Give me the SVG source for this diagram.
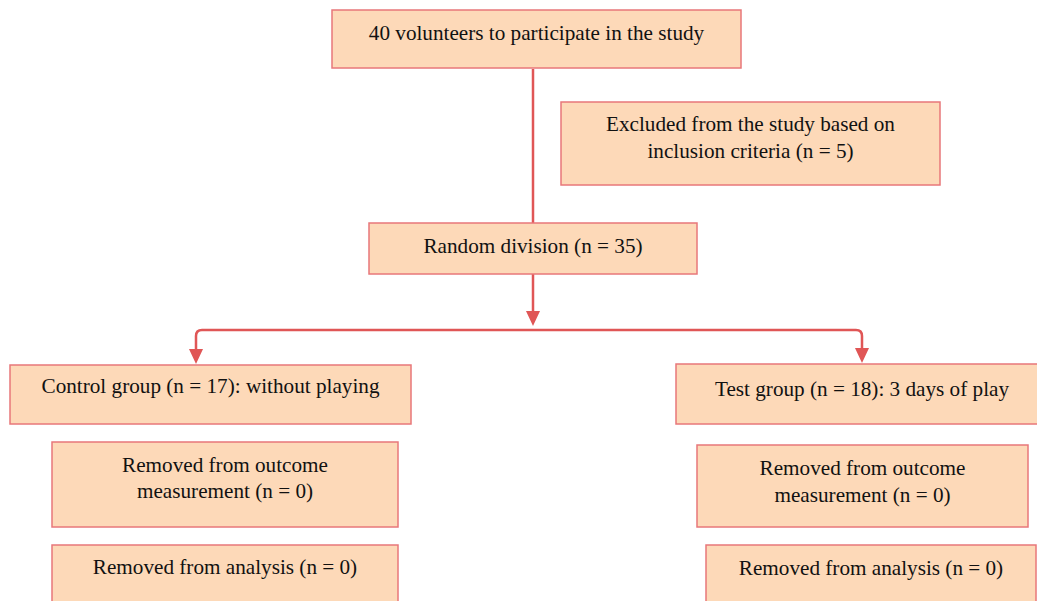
<svg xmlns="http://www.w3.org/2000/svg" width="1037" height="601" viewBox="0 0 1037 601">
<style>
.box{fill:#FDD9B8;stroke:#E8777A;stroke-width:1.5}
.t{font-family:"Liberation Serif","Times New Roman",serif;font-size:21.2px;fill:#111;text-anchor:middle}
.c{fill:none;stroke:#E05656;stroke-width:2.5}
.h{fill:#E05656}
</style>
<rect width="1037" height="601" fill="#fff"/>
<g id="connectors">
<line class="c" x1="533" y1="69" x2="533" y2="223"/>
<line class="c" x1="533" y1="274" x2="533" y2="311"/>
<path class="h" d="M526,311 L540,311 L533,326 Z"/>
<path class="c" d="M196,350 L196,336 Q196,330 202,330 L856,330 Q862,330 862,336 L862,349"/>
<path class="h" d="M189,349 L203,349 L196,364 Z"/>
<path class="h" d="M855,348 L869,348 L862,363 Z"/>
</g>
<g id="n-volunteers"><rect class="box" x="332" y="10" width="409" height="58"/><text class="t" x="536.5" y="40">40 volunteers to participate in the study</text></g>
<g id="n-excluded"><rect class="box" x="561" y="102" width="379" height="83"/><text class="t" x="750.5" y="131">Excluded from the study based on</text><text class="t" x="750.5" y="158">inclusion criteria (n = 5)</text></g>
<g id="n-random"><rect class="box" x="369" y="223" width="328" height="51"/><text class="t" x="533" y="253">Random division (n = 35)</text></g>
<g id="n-control"><rect class="box" x="10" y="365" width="401" height="59"/><text class="t" x="210.5" y="393">Control group (n = 17): without playing</text></g>
<g id="n-test"><rect class="box" x="676" y="364" width="372" height="60"/><text class="t" x="862" y="396">Test group (n = 18): 3 days of play</text></g>
<g id="n-left-outcome"><rect class="box" x="52" y="442" width="346" height="85"/><text class="t" x="225" y="472">Removed from outcome</text><text class="t" x="225" y="498">measurement (n = 0)</text></g>
<g id="n-left-analysis"><rect class="box" x="52" y="545" width="346" height="70"/><text class="t" x="225" y="574">Removed from analysis (n = 0)</text></g>
<g id="n-right-outcome"><rect class="box" x="697" y="445" width="331" height="82"/><text class="t" x="862.5" y="475">Removed from outcome</text><text class="t" x="862.5" y="502">measurement (n = 0)</text></g>
<g id="n-right-analysis"><rect class="box" x="706" y="545" width="330" height="70"/><text class="t" x="871" y="575">Removed from analysis (n = 0)</text></g>
</svg>
